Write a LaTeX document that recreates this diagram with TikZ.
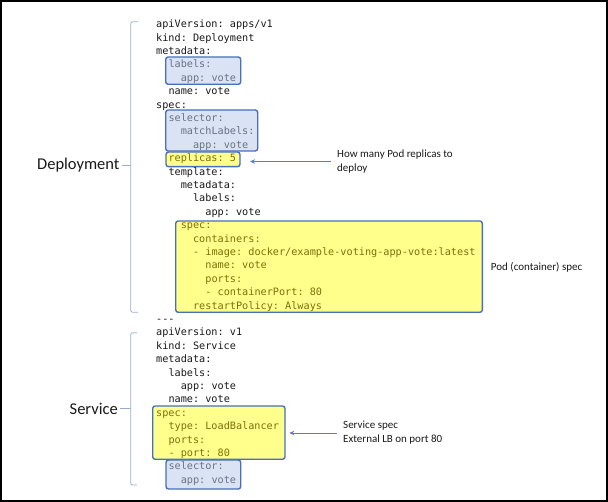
\documentclass[tikz,border=0pt]{standalone}
\usepackage{fontspec}
\setmonofont{DejaVu Sans Mono}
\newfontfamily\notefont{Carlito}
\usetikzlibrary{arrows.meta}
\definecolor{codetext}{RGB}{25,25,25}
\definecolor{ytext}{RGB}{125,112,10}
\definecolor{btext}{RGB}{105,115,135}
\definecolor{boxline}{RGB}{72,110,190}
\definecolor{yfill}{RGB}{255,255,140}
\definecolor{bfill}{RGB}{218,227,243}
\definecolor{brkline}{RGB}{150,172,212}
\definecolor{arrline}{RGB}{90,125,195}

\begin{document}
\begin{tikzpicture}[x=1pt,y=-1pt,
    code/.style={anchor=west,inner sep=0pt,text=codetext,text height=7pt,text depth=2pt,font=\ttfamily\fontsize{10.2}{12}\selectfont},
    ycode/.style={code,text=ytext},
    bcode/.style={code,text=btext},
    ybox/.style={draw=boxline,fill=yfill,line width=1.4pt,rounded corners=2.5pt,anchor=north west,inner sep=0pt,outer sep=0pt},
    bbox/.style={ybox,fill=bfill},
    note/.style={anchor=west,inner xsep=6.5pt,inner ysep=0pt,align=left,text=codetext,font=\notefont\fontsize{11}{14}\selectfont},
    title/.style={anchor=east,inner xsep=2pt,inner ysep=0pt,text=codetext,font=\notefont\fontsize{16.5}{18}\selectfont},
    brk/.style={draw=brkline,line width=0.8pt},
    pointer/.style={draw=arrline,line width=0.9pt,-{Stealth[length=5pt,width=4.5pt]}}]

            \useasboundingbox (0,0) rectangle (608,502);
            \draw[line width=2.4pt] (1.2,1.2) rectangle (606.8,500.8);

            \node[bbox,minimum width=75pt,minimum height=27.3pt] (LB) at (165.7,57) {};
            \node[bbox,minimum width=92pt,minimum height=41pt] (SEL) at (165.7,110) {};
            \node[ybox,minimum width=74pt,minimum height=14.7pt] (REP) at (166,152) {};
            \node[ybox,minimum width=306.6pt,minimum height=91.3pt] (POD) at (175.7,221) {};
            \node[ybox,minimum width=132.3pt,minimum height=53.3pt] (SVC) at (152.7,406) {};
            \node[bbox,minimum width=74.7pt,minimum height=29pt] (SSEL) at (166,460) {};

            \node[code] (L0) at (156,25.3) {apiVersion: apps/v1};
            \node[code] (L1) at (156,38.7) {kind: Deployment};
            \node[code] (L2) at (156,52.1) {metadata:};
            \node[bcode] (L3) at (168.3,65.5) {labels:};
            \node[bcode] (L4) at (180.6,78.9) {app: vote};
            \node[code] (L5) at (168.3,92.3) {name: vote};
            \node[code] (L6) at (156,105.7) {spec:};
            \node[bcode] (L7) at (168.3,119.1) {selector:};
            \node[bcode] (L8) at (180.6,132.5) {matchLabels:};
            \node[bcode] (L9) at (192.9,145.9) {app: vote};
            \node[ycode] (L10) at (168.3,159.3) {replicas: 5};
            \node[code] (L11) at (168.3,172.7) {template:};
            \node[code] (L12) at (180.6,186.1) {metadata:};
            \node[code] (L13) at (192.9,199.5) {labels:};
            \node[code] (L14) at (205.2,212.9) {app: vote};
            \node[ycode] (L15) at (180.6,226.3) {spec:};
            \node[ycode] (L16) at (192.9,239.7) {containers:};
            \node[ycode] (L17) at (192.9,253.1) {- image: docker/example-voting-app-vote:latest};
            \node[ycode] (L18) at (205.2,266.5) {name: vote};
            \node[ycode] (L19) at (205.2,279.9) {ports:};
            \node[ycode] (L20) at (205.2,293.3) {- containerPort: 80};
            \node[ycode] (L21) at (192.9,306.7) {restartPolicy: Always};
            \node[code] (L22) at (156,320.1) {-{}-{}-};

            \node[code] (L23) at (156,333.5) {apiVersion: v1};
            \node[code] (L24) at (156,346.9) {kind: Service};
            \node[code] (L25) at (156,360.3) {metadata:};
            \node[code] (L26) at (168.3,373.7) {labels:};
            \node[code] (L27) at (180.6,387.1) {app: vote};
            \node[code] (L28) at (168.3,400.5) {name: vote};
            \node[ycode] (L29) at (156,413.9) {spec:};
            \node[ycode] (L30) at (168.3,427.3) {type: LoadBalancer};
            \node[ycode] (L31) at (168.3,440.7) {ports:};
            \node[ycode] (L32) at (168.3,454.1) {- port: 80};
            \node[bcode] (L33) at (168.3,467.5) {selector:};
            \node[bcode] (L34) at (180.6,480.9) {app: vote};

            \node[note] (N1) at (330.5,161.5) {How many Pod replicas to\\deploy};
            \node[note] (N2) at (484.2,267) {Pod (container) spec};
            \node[note] (N3) at (336.5,433) {Service spec\\External LB on port 80};

            \draw[pointer,shorten >=10pt] (N1.west) -- (N1.west -| REP.east);
            \draw[pointer,shorten >=4.3pt] (N3.west) -- (N3.west -| SVC.east);

            \node[title] (DEP) at (121.7,165) {Deployment};
            \node[title] (SRV) at (120,408.5) {Service};
            \coordinate (DT) at (130.7,165);
            \coordinate (ST) at (130.7,408.5);

            \draw[brk] (DEP.east) -- (DT);
            \draw[brk] (SRV.east) -- (ST);
            \draw[brk,rounded corners=2pt] (138,21.7) -- (130.7,21.7) -- (130.7,312.3) -- (138,312.3);
            \draw[brk,rounded corners=2pt] (137,332.7) -- (130.7,332.7) -- (130.7,485) -- (137,485);

        \end{tikzpicture}
\end{document}
